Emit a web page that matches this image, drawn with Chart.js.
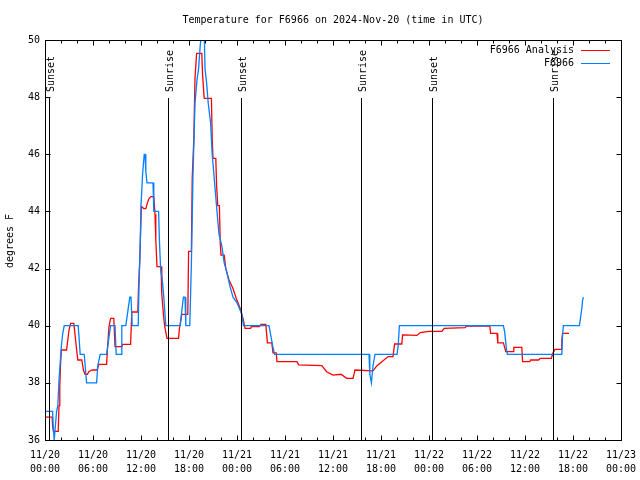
<!DOCTYPE html>
<html>
<head>
<meta charset="utf-8">
<script src="https://cdn.jsdelivr.net/npm/chart.js@4/dist/chart.umd.min.js"></script>
<style>
  html, body { margin: 0; padding: 0; background: #fff; }
  canvas { display: block; }
</style>
</head>
<body>
<canvas id="chart" width="640" height="480"></canvas>
<script>
// hours since 2024-11-20 00:00 UTC
var analysisHours = [
  0.1, 0.9, 0.95, 1.05, 1.65, 1.75, 1.85, 1.95, 2.05, 2.7,
  2.85, 3.0, 3.2, 3.6, 3.75, 3.9, 4.1, 4.6, 4.8, 5.0,
  5.3, 5.5, 5.9, 6.5, 6.75, 7.7, 7.8, 8.0, 8.2, 8.6,
  8.75, 9.6, 9.7, 10.7, 10.85, 11.6, 11.7, 11.85, 11.95, 12.05,
  12.35, 12.6, 12.8, 13.0, 13.25, 13.6, 13.75, 13.85, 14.0, 14.5,
  14.6, 14.8, 14.95, 15.25, 16.7, 16.8, 17.1, 17.85, 17.95, 18.3,
  18.4, 18.6, 18.75, 18.95, 19.6, 19.7, 19.9, 20.8, 20.9, 21.0,
  21.35, 21.45, 21.6, 21.8, 21.9, 22.0, 22.4, 22.6, 23.0, 23.5,
  23.9, 24.4, 24.75, 25.0, 25.7, 25.8, 26.8, 27.0, 27.6, 27.8,
  28.35, 28.5, 28.9, 29.0, 31.5, 31.7, 34.6, 35.2, 36.0, 37.0,
  37.7, 38.5, 38.75, 41.0, 41.5, 42.1, 42.9, 43.5, 43.7, 44.6,
  44.7, 46.5, 46.9, 48.0, 49.6, 49.9, 52.5, 52.7, 55.6, 55.7,
  56.5, 56.6, 57.3, 57.6, 58.5, 58.6, 59.6, 59.7, 60.6, 60.7,
  61.7, 61.9, 63.3, 63.5, 63.75, 64.5, 64.6, 64.7, 65.5
];
var analysisTemps = [
  36.8, 36.8, 36.5, 36.3, 36.3, 37.2, 37.9, 38.7, 39.15, 39.15,
  39.5, 39.85, 40.08, 40.08, 39.7, 39.3, 38.8, 38.8, 38.45, 38.3,
  38.3, 38.4, 38.45, 38.45, 38.65, 38.65, 39.15, 39.97, 40.26, 40.26,
  39.27, 39.27, 39.35, 39.35, 40.48, 40.48, 41.4, 42.3, 43.3, 44.17,
  44.1, 44.1, 44.3, 44.45, 44.52, 44.52, 43.9, 43.0, 42.07, 42.07,
  41.1, 40.4, 40.0, 39.56, 39.56, 39.9, 40.4, 40.4, 42.6, 42.6,
  45.15, 46.5, 48.66, 49.53, 49.53, 48.77, 47.96, 47.96, 46.56, 45.86,
  45.86, 44.9, 44.2, 44.2, 42.94, 42.47, 42.47, 42.0, 41.6, 41.3,
  40.96, 40.6, 40.26, 39.91, 39.91, 39.97, 39.97, 40.05, 40.05, 39.4,
  39.4, 39.05, 39.05, 38.74, 38.74, 38.63, 38.6, 38.39, 38.27, 38.3,
  38.16, 38.16, 38.45, 38.42, 38.6, 38.74, 38.92, 38.92, 39.36, 39.36,
  39.68, 39.66, 39.76, 39.8, 39.8, 39.91, 39.93, 39.99, 39.99, 39.73,
  39.73, 39.4, 39.4, 39.09, 39.09, 39.24, 39.24, 38.74, 38.74, 38.8,
  38.8, 38.86, 38.86, 39.05, 39.17, 39.17, 39.5, 39.73, 39.73
];

var obsHours = [
  0, 0.95, 1.0, 1.15, 1.3, 1.45, 1.6, 1.75, 1.9, 2.05,
  2.2, 2.4, 4.15, 4.4, 4.9, 5.2, 6.45, 6.6, 6.9, 7.7,
  8.0, 8.2, 8.75, 8.9, 9.5, 9.6, 10.1, 10.3, 10.45, 10.6,
  10.75, 10.9, 11.65, 11.75, 11.9, 12.0, 12.2, 12.4, 12.5, 12.6,
  12.75, 13.5, 13.6, 14.2, 14.3, 14.45, 14.7, 14.85, 15.1, 16.9,
  17.05, 17.3, 17.5, 17.6, 18.1, 18.3, 18.5, 18.75, 19.0, 19.2,
  19.4, 19.6, 19.9, 20.0, 20.2, 20.4, 20.7, 20.9, 21.2, 21.5,
  21.75, 22.1, 22.4, 22.7, 23.1, 23.5, 24.0, 24.6, 24.8, 28.0,
  28.2, 28.45, 28.7, 40.5, 40.6, 40.8, 41.0, 41.25, 44.0, 44.15,
  44.3, 57.3, 57.45, 57.6, 57.7, 57.8, 64.6, 64.7, 64.8, 66.8,
  66.95, 67.1, 67.2, 67.3
];
var obsTemps = [
  37.0, 37.0, 36.6, 36.0, 36.5, 37.0, 37.2, 38.1, 38.7, 39.3,
  39.7, 40.0, 40.0, 39.0, 39.0, 38.0, 38.0, 38.6, 39.0, 39.0,
  39.6, 40.0, 40.0, 39.0, 39.0, 40.0, 40.0, 40.4, 40.7, 41.0,
  41.0, 40.0, 40.0, 41.4, 42.8, 44.2, 45.3, 46.0, 46.0, 45.4,
  45.0, 45.0, 44.0, 44.0, 43.0, 42.0, 41.5, 41.0, 40.0, 40.0,
  40.4, 41.0, 41.0, 40.0, 40.0, 42.2, 45.3, 47.8, 48.6, 49.0,
  49.8, 50.3, 50.3, 49.0, 48.5, 47.8, 47.1, 46.0, 45.0, 44.0,
  43.2, 42.8, 42.2, 41.9, 41.4, 41.0, 40.8, 40.4, 40.0, 40.0,
  39.7, 39.3, 39.0, 39.0, 38.3, 38.0, 38.6, 39.0, 39.0, 39.3,
  40.0, 40.0, 39.8, 39.4, 39.15, 39.0, 39.0, 39.7, 40.0, 40.0,
  40.3, 40.6, 40.9, 41.0
];

var sunHours = [0.5, 15.4, 24.5, 39.45, 48.4, 63.45];
var sunLabels = ['Sunset', 'Sunrise', 'Sunset', 'Sunrise', 'Sunset', 'Sunrise'];

var FONT = "'DejaVu Sans Mono', 'Liberation Mono', monospace";

function toPoints(xs, ys) {
  return xs.map(function (x, i) { return { x: x, y: ys[i] }; });
}

var gnuplotBits = {
  id: 'gnuplotBits',
  afterDatasetsDraw: function (chart) {
    var c = chart.ctx, a = chart.chartArea;
    var xs = chart.scales.x, ys = chart.scales.y;
    c.save();
    c.strokeStyle = '#000';
    c.fillStyle = '#000';
    c.lineWidth = 1;

    // sunrise / sunset markers
    c.font = '10px ' + FONT;
    sunHours.forEach(function (h, i) {
      var px = Math.round(xs.getPixelForValue(h)) + 0.5;
      c.beginPath();
      c.moveTo(px, 98);
      c.lineTo(px, a.bottom);
      c.stroke();
      c.save();
      c.translate(px + 2, 92);
      c.rotate(-Math.PI / 2);
      c.textAlign = 'left';
      c.textBaseline = 'middle';
      c.fillText(sunLabels[i], 0, 0);
      c.restore();
    });

    // frame
    var L = Math.round(a.left) + 0.5, R = Math.round(a.right) + 0.5;
    var T = Math.round(a.top) + 0.5, B = Math.round(a.bottom) + 0.5;
    c.strokeRect(L, T, R - L, B - T);

    // inward ticks, mirrored
    c.beginPath();
    for (var h = 0; h <= 72; h += 2) {
      var px = Math.round(xs.getPixelForValue(h)) + 0.5;
      var len = (h % 6 === 0) ? 5 : 3;
      c.moveTo(px, B); c.lineTo(px, B - len);
      c.moveTo(px, T); c.lineTo(px, T + len);
    }
    for (var v = 36; v <= 50; v += 2) {
      var py = Math.round(ys.getPixelForValue(v)) + 0.5;
      c.moveTo(L, py); c.lineTo(L + 5, py);
      c.moveTo(R, py); c.lineTo(R - 5, py);
    }
    c.stroke();

    // title, centred over the plot
    c.textAlign = 'center';
    c.textBaseline = 'middle';
    c.fillText('Temperature for F6966 on 2024-Nov-20 (time in UTC)', (a.left + a.right) / 2, 20);

    // y axis label
    c.save();
    c.translate(10, 241);
    c.rotate(-Math.PI / 2);
    c.fillText('degrees F', 0, 0);
    c.restore();

    // key
    c.textAlign = 'right';
    chart.data.datasets.forEach(function (ds, i) {
      var ky = 50 + i * 13;
      c.fillStyle = '#000';
      c.fillText(ds.label, 574, ky);
      c.strokeStyle = ds.borderColor;
      c.beginPath();
      c.moveTo(581, ky + 0.5);
      c.lineTo(610, ky + 0.5);
      c.stroke();
    });
    c.restore();
  }
};

new Chart(document.getElementById('chart'), {
  type: 'line',
  data: {
    datasets: [{
      label: 'F6966 Analysis',
      data: toPoints(analysisHours, analysisTemps),
      borderColor: '#ff0000',
      borderWidth: 1.3,
      pointRadius: 0,
      order: 2
    }, {
      label: 'F6966',
      data: toPoints(obsHours, obsTemps),
      borderColor: '#0080ff',
      borderWidth: 1.3,
      pointRadius: 0,
      order: 1
    }]
  },
  options: {
    responsive: false,
    animation: false,
    layout: { padding: { top: 40, right: 19, left: 0, bottom: 0 } },
    plugins: {
      legend: { display: false },
      tooltip: { enabled: false }
    },
    scales: {
      x: {
        type: 'linear',
        min: 0,
        max: 72,
        grid: { display: false, drawTicks: false },
        border: { display: false },
        afterFit: function (s) {
          s.height = 40;
          s.paddingLeft = 0;
          s.paddingRight = 0;
        },
        ticks: {
          stepSize: 6,
          autoSkip: false,
          maxRotation: 0,
          padding: 8,
          color: '#000',
          font: { family: FONT, size: 10, lineHeight: 1.4 },
          callback: function (v) {
            var day = 20 + Math.floor(v / 24);
            var hh = v % 24;
            return ['11/' + day, (hh < 10 ? '0' : '') + hh + ':00'];
          }
        }
      },
      y: {
        min: 36,
        max: 50,
        grid: { display: false, drawTicks: false },
        border: { display: false },
        afterFit: function (s) { s.width = 45; },
        ticks: {
          stepSize: 2,
          padding: 5,
          color: '#000',
          font: { family: FONT, size: 10 }
        }
      }
    }
  },
  plugins: [gnuplotBits]
});
</script>
</body>
</html>
